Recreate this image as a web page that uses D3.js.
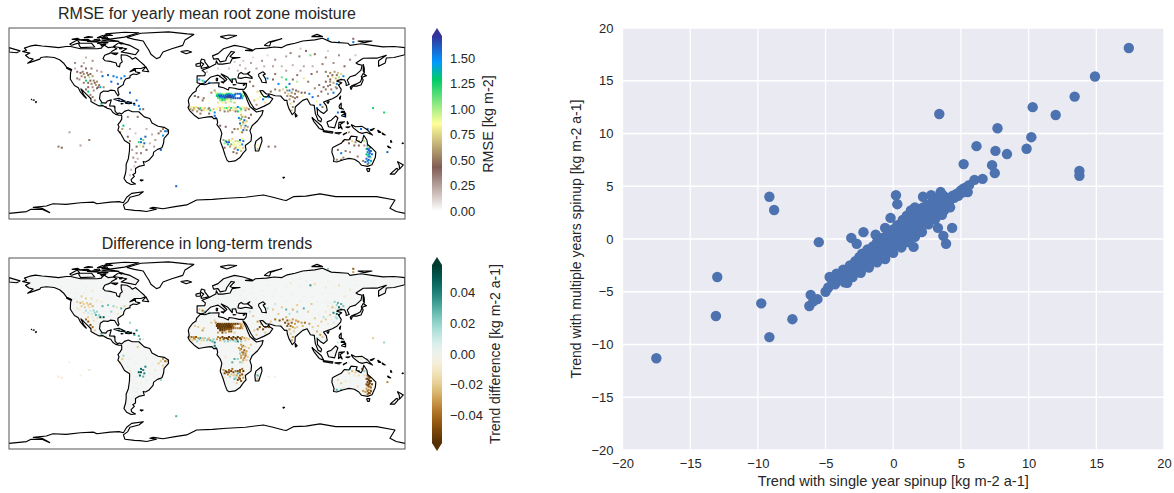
<!DOCTYPE html>
<html>

<head>
    <meta charset="UTF-8" />
    <title>spinup comparison</title>
    <style>
        body {
            margin: 0;
            padding: 0;
            background: #fff;
            overflow: hidden;
        }

        text {
            font-family: 'Liberation Sans', Arial, sans-serif;
            fill: #262626;
        }

        .soft {
            filter: blur(0.3px);
        }

        .cell-layer {
            filter: blur(0.45px);
        }
    </style>
</head>

<body>
    <svg id="chart" width="1174" height="493"></svg>

    <script src="https://cdnjs.cloudflare.com/ajax/libs/d3/7.8.5/d3.min.js"></script>
    <script>
        // coastlines, lon/lat
        const americas = [[-168, 65.5], [-164, 66.5], [-166, 68.5], [-161, 70.3], [-156, 71.3], [-150, 70.5], [-141, 69.7], [-135, 69], [-128, 70], [-124, 70], [-115, 68], [-108, 68], [-100, 68], [-96, 68.5], [-94, 71.5], [-90, 69], [-85, 69.5], [-82, 68], [-86, 66], [-88, 64], [-93, 62], [-94.5, 59], [-92.5, 57], [-88, 56.5], [-82.5, 55], [-82, 52.5], [-79.5, 51.5], [-79, 54.5], [-77, 56], [-78, 59], [-78, 62.5], [-73, 62], [-70, 60.5], [-68, 58.5], [-65, 60], [-61, 56.5], [-57, 53], [-56, 51.5], [-60, 50], [-66, 50], [-70, 47], [-65, 49], [-65, 47], [-61, 46], [-64, 44.5], [-67, 45], [-70, 43.5], [-70, 41.7], [-74, 40.5], [-75.5, 38], [-76, 35.5], [-78, 34], [-81, 32], [-81, 30], [-80, 26.5], [-81, 25.2], [-82.5, 27.5], [-84, 30], [-88, 30.3], [-90, 29.2], [-94, 29.5], [-97, 27.5], [-97.7, 22.5], [-95.5, 19], [-92, 18.5], [-90.5, 20.5], [-87, 21.5], [-88, 18], [-88.5, 16], [-84, 15.8], [-83.5, 11], [-81.5, 9], [-79.5, 9.5], [-77.5, 8.7], [-75, 11], [-71.5, 12.2], [-68, 10.7], [-62, 10.7], [-57, 6], [-52, 4.5], [-50, 0.5], [-44.5, -2.5], [-39, -3.5], [-35, -6], [-35, -9], [-39, -13.5], [-39.5, -18], [-41, -22], [-45, -23.5], [-48.5, -26], [-49, -29], [-53, -33.5], [-56, -35], [-58, -34.5], [-57, -38], [-62, -39], [-65, -41], [-65, -45], [-67.5, -46.5], [-66, -48], [-69, -51], [-68.5, -53], [-65, -55], [-69, -55.5], [-73, -53.5], [-75.5, -50], [-74, -45], [-73.5, -41], [-73.5, -37], [-71.5, -32], [-70.5, -25], [-70.3, -18.5], [-75, -15.5], [-78, -10], [-81, -6], [-80, -3], [-81, -1], [-79, 1.5], [-77.5, 4], [-77.5, 7], [-78, 7.5], [-80, 7.5], [-83, 8.3], [-85.5, 10], [-87.5, 13], [-91, 14], [-94.5, 16.2], [-98, 16], [-102, 18], [-105.5, 20], [-105.5, 22.5], [-109, 26], [-112.5, 29.5], [-114.7, 31.5], [-112, 26], [-109.7, 23], [-112, 25], [-115, 28.5], [-117, 32.5], [-120.5, 34.5], [-122.5, 37.5], [-124.3, 40.5], [-124, 46.5], [-123, 49], [-127.5, 51], [-130, 54.5], [-134, 58], [-139, 60], [-146, 60.7], [-151, 60], [-152, 58.5], [-158, 56.5], [-163, 54.8], [-158, 58.5], [-162, 59.5], [-165, 62], [-161, 64], [-168, 65.5]];
        const afroEurasia = [[-6, 35.8], [-9.5, 32], [-10, 29.5], [-13, 27.5], [-16, 23.5], [-17, 21], [-16.2, 16.5], [-17.3, 14.7], [-16, 12], [-13.5, 9.5], [-11, 7], [-7.5, 4.5], [-4, 5.2], [1, 6], [4.5, 6.3], [6, 4.5], [9, 4.5], [9.7, 1], [9, -1], [12, -5], [13.5, -9], [12, -16], [14.5, -22.5], [16.5, -29], [18.3, -33.5], [20, -34.8], [25.5, -34], [30, -31], [32.8, -27], [35.5, -24], [34.8, -20], [40, -16], [40.5, -11], [39, -6.5], [41, -2], [46, 2.5], [50, 8], [51, 11.8], [45, 10.5], [43, 12], [39, 15.5], [37, 20], [35.5, 24], [33.5, 28], [32.6, 29.8], [34.5, 28], [36, 26], [38.5, 21], [40, 18], [43, 13.5], [45, 12.8], [52, 15.8], [57, 18.5], [59.8, 22.5], [56.5, 24.5], [56.3, 26.3], [54.5, 24.2], [51.5, 24.5], [50, 26.7], [48, 29.8], [50.5, 30], [54, 26.8], [57, 26.8], [62, 25.2], [67, 25], [68.5, 23.3], [70.5, 21], [72.7, 21], [73, 18], [74.5, 13.5], [77.5, 8], [80, 10.5], [80.2, 15], [83, 17.5], [87, 21], [91, 22.5], [94, 17], [97.5, 16.5], [98.5, 9], [101, 3], [103.5, 1.5], [104.2, 4], [100.5, 8], [100.2, 13.5], [103, 11], [106, 9], [109.3, 12], [108.5, 16], [106, 19.5], [110, 21], [114, 22.5], [118, 24.7], [121.5, 28.5], [122, 31], [119.5, 35], [122.5, 37], [118, 38.5], [121.5, 40], [125, 39.7], [126.5, 36.5], [126.5, 34.5], [129.3, 35.5], [127.5, 39.5], [130, 42.5], [135, 44], [140, 48.5], [141, 53], [137, 54], [135.5, 55], [142, 59.3], [150, 59.5], [155, 59.5], [163, 62], [156, 57], [156, 52], [162, 55], [163, 59.5], [170, 60], [179.9, 62.5], [180, 69], [170, 70], [160, 69.7], [150, 71], [140, 72.5], [130, 71], [128, 73], [113, 74], [105, 77.5], [98, 76], [87, 75], [80, 73], [73, 71.5], [68, 69], [61, 69.5], [54, 68.5], [44, 68], [41, 66], [35, 66.5], [41, 67], [33, 69.5], [25, 71], [15, 68], [10, 63.5], [5, 61.5], [6, 58.5], [10, 59], [12, 56], [17, 57], [18, 60], [22, 65.5], [25, 65], [21, 61], [23, 60], [30, 60], [23, 59], [21, 55], [14, 54], [10, 54], [8.5, 57], [8, 54], [4, 52], [1.5, 50.8], [-1.5, 49.5], [-4.5, 48.4], [-1.5, 46], [-2, 43.5], [-9, 43.3], [-9, 37], [-5.5, 36], [-2, 36.8], [0, 39], [3, 42], [6, 43], [10, 44], [15.5, 40], [16, 38], [18, 40], [13, 45], [19, 42], [23, 37], [23, 40.5], [26, 40.7], [27, 37], [30, 36.5], [36, 36.5], [35.5, 33], [34, 31.3], [32, 31], [29, 31], [25, 32], [20, 32.7], [19.5, 30.5], [15, 32.5], [10.5, 33.5], [11, 37], [3, 36.8], [-2, 35.2], [-6, 35.8]];
        const australia = [[114, -22], [113.5, -26], [115.5, -32], [115, -34.5], [118, -35], [124, -33], [129, -31.7], [134, -32.5], [138, -35], [140.5, -38], [146, -39], [150, -37.5], [153, -31], [153.5, -26], [149.5, -22], [146, -19], [145.3, -15], [142.5, -10.7], [141.5, -15], [140, -17.5], [135.5, -15], [136.5, -12], [131, -11.5], [129, -15], [125, -14.5], [122, -18], [117, -20.5], [114, -22]];
        const islands = [
            [[-117, 73], [-105, 73], [-102, 69.5], [-115, 69], [-117, 73]],
            [[-80, 73.5], [-70, 71], [-62, 66.5], [-65, 62.5], [-72, 64], [-78, 65], [-73, 68], [-85, 70], [-80, 73.5]],
            [[-125, 72], [-118, 76], [-116, 73.5], [-123, 71.2], [-125, 72]],
            [[-90, 76.5], [-75, 78.5], [-62, 82.5], [-75, 83], [-92, 81.5], [-90, 76.5]],
            [[-96, 75], [-80, 74.7], [-90, 76.3], [-96, 75]],
            [[-117, 76], [-106, 75], [-108, 76.5], [-117, 76]],
            [[-100, 78], [-92, 78.5], [-95, 80], [-100, 78]],
            [[-100, 73], [-95, 72], [-90, 73.5], [-96, 74], [-100, 73]],
            [[-123, 76.5], [-116, 76.5], [-118, 77.5], [-123, 76.5]],
            [[-112, 78], [-104, 78.5], [-108, 79], [-112, 78]],
            [[-103, 76], [-97, 75.2], [-98, 76.8], [-103, 76]],
            [[-96, 77], [-89, 77], [-92, 78], [-96, 77]],
            [[-94, 80], [-86, 80], [-90, 81.3], [-94, 80]],
            [[-80, 73.5], [-76, 73], [-78, 72.2], [-80, 73.5]],
            [[-109, 74.5], [-98, 74], [-103, 75.2], [-109, 74.5]],
            [[-97, 72], [-92, 72], [-95, 70], [-97, 72]],
            [[-80, 68], [-77, 69], [-78, 67.8], [-80, 68]],
            [[-87, 64], [-81, 64], [-83, 62.5], [-87, 64]],
            [[-59, 47.7], [-53, 47], [-55.5, 51.5], [-59, 47.7]],
            [[-128, 50.5], [-124, 48.5], [-125, 50], [-128, 50.5]],
            [[-85, 22], [-80, 23], [-74.5, 20.2], [-78, 20], [-85, 22]],
            [[-74.5, 18.5], [-72, 20], [-68.5, 18.5], [-71, 18], [-74.5, 18.5]],
            [[-78.3, 18.3], [-76.3, 18], [-78, 17.8], [-78.3, 18.3]],
            [[-67, 18.4], [-65.7, 18.3], [-67, 18], [-67, 18.4]],
            [[-160, 22], [-159.4, 22], [-159.5, 21.7], [-160, 22]],
            [[-158, 21.6], [-157, 21.3], [-158, 21.2], [-158, 21.6]],
            [[-156, 20], [-155, 19.7], [-155.6, 19], [-156, 20]],
            [[-61, -51.3], [-58, -51.4], [-59.5, -52.2], [-61, -51.3]],
            [[68.8, -49], [70.5, -49], [69.5, -49.7], [68.8, -49]],
            [[-5.5, 50], [1.5, 51.5], [0, 53.5], [-2, 56], [-2, 57.7], [-5, 58.6], [-6, 56], [-3, 54], [-5, 52], [-5.5, 50]],
            [[-10, 52], [-6, 52.2], [-6, 55], [-10, 54], [-10, 52]],
            [[-24, 65.5], [-18, 66.3], [-14, 65], [-19, 63.4], [-24, 65.5]],
            [[12, 79], [20, 80.5], [27, 80], [18, 76.8], [12, 79]],
            [[52, 71], [56, 74], [68, 77], [58, 74], [57, 70.5], [52, 71]],
            [[95, 79], [105, 79], [100, 81], [95, 79]],
            [[137, 75], [150, 75], [143, 73.5], [137, 75]],
            [[-180, 65], [-173, 64.3], [-170, 66], [-180, 69], [-180, 65]],
            [[142, 54], [143, 50], [143, 46], [142, 48], [142, 54]],
            [[140, 42], [142, 45.5], [145, 43.5], [141, 42], [140, 42]],
            [[131, 34], [136, 34], [140, 35], [142, 39.5], [141, 41.5], [139.5, 38], [136, 36], [131, 34]],
            [[130, 33.5], [132, 33], [131, 31], [130, 33.5]],
            [[120.2, 23], [121.5, 25], [121, 22], [120.2, 23]],
            [[108.7, 19.3], [111, 20], [110, 18.3], [108.7, 19.3]],
            [[120, 16], [122, 18.5], [122, 14], [124, 13], [120.5, 14], [120, 16]],
            [[122, 11], [125, 11], [125, 10], [122, 10], [122, 11]],
            [[122, 7], [126, 9.5], [126, 6], [122, 7]],
            [[109, 1.5], [113, 3], [117, 7], [119, 5], [117.5, 1], [116, -4], [110.5, -3], [109, 1.5]],
            [[95.3, 5.6], [104, -2], [106, -6], [102, -4.5], [97, 2], [95.3, 5.6]],
            [[105.5, -6.5], [114.5, -7.5], [114, -8.7], [106, -7.5], [105.5, -6.5]],
            [[116, -8.5], [122, -8.3], [120, -9.5], [116, -8.5]],
            [[124, -9.5], [127, -8.5], [124, -10.3], [124, -9.5]],
            [[119.5, -5], [120, 1], [125, 1.5], [121, -1], [123, -5], [121, -3], [119.5, -5]],
            [[127.5, 2], [128.5, 0], [127.7, -0.5], [127.5, 2]],
            [[126, -3.2], [130, -3], [128, -3.8], [126, -3.2]],
            [[131, -1], [135, -3], [141, -2.6], [146, -6], [150.5, -10.5], [145, -8], [141, -9], [138, -8], [133, -4], [131, -1]],
            [[148, -6], [152, -4.5], [150, -6.3], [148, -6]],
            [[155, -6], [158, -8], [156, -8], [155, -6]],
            [[159, -8.5], [162, -10.5], [160, -10], [159, -8.5]],
            [[167, -15], [168, -17], [167, -17], [167, -15]],
            [[164, -20.3], [167, -22.3], [165, -21.8], [164, -20.3]],
            [[177.3, -17.5], [178.6, -18], [177.5, -18.3], [177.3, -17.5]],
            [[145, -41], [148, -41], [147.5, -43.5], [146, -43.5], [145, -41]],
            [[173, -34.5], [178.5, -37.7], [175, -41.5], [174.8, -38], [173, -34.5]],
            [[172.5, -40.7], [174, -42], [170.5, -46], [166.5, -46], [172.5, -40.7]],
            [[49.5, -12], [50, -16], [47, -25], [44, -25], [43.5, -20], [44.5, -16], [49.5, -12]],
            [[80, 9.5], [82, 7], [80.5, 6], [80, 9.5]],
            [[8.3, 41], [9.7, 41], [9.5, 39], [8.5, 39], [8.3, 41]],
            [[12.5, 38], [15.5, 38], [15, 36.8], [12.5, 38]],
            [[23.5, 35.5], [26.3, 35.2], [24, 35], [23.5, 35.5]],
            [[32.5, 35], [34.5, 35.6], [33.5, 34.7], [32.5, 35]]
        ];
        const greenland = [[-73, 78.2], [-60, 82], [-35, 83.3], [-18, 81.5], [-12, 81], [-20, 76], [-22, 71], [-32, 68], [-40, 65], [-43, 60], [-46, 59], [-51, 63], [-53, 67], [-55, 70], [-58, 75], [-66, 76.5], [-73, 78.2]];
        const antarctica = [[-180, -81.7], [-164, -80.1], [-160, -78], [-150, -78], [-143, -81], [-150, -77], [-158, -76.2], [-146, -75], [-140, -73], [-128, -73.5], [-115, -72], [-103.4, -71.5], [-100, -73], [-88, -71.5], [-80, -71], [-76, -72], [-73, -67], [-68.5, -63.5], [-58, -62], [-62, -65], [-70, -67], [-72, -71], [-76, -74], [-74.6, -78], [-66, -79], [-61, -79.2], [-55, -80], [-46, -78], [-52, -77], [-48.8, -76.2], [-40, -77.5], [-29, -75.6], [-18.5, -74], [-9.4, -69.5], [5, -69], [17.9, -68], [35, -67], [51.2, -65], [60, -67], [69.4, -69.5], [72, -70], [78.5, -66.5], [90, -66], [102.7, -64], [117, -66.5], [133, -66.5], [154.2, -66.5], [170.9, -69.5], [166.3, -77], [172, -80], [180, -81.7]];
        const lakes = [
            [[28, 41.5], [29, 45], [31, 46.5], [33, 45], [36, 45], [39, 47], [37, 45], [41, 42], [41, 41], [35, 42], [31, 41], [28, 41.5]],
            [[47, 45], [51, 47], [53, 45], [51, 44], [53, 41], [54, 37], [50, 37.5], [49, 40], [47, 43], [47, 45]]
        ];

        // [lon, lat, rmse, trend difference] of the grid cells that stand out
        const cells = [
            // sahara
            [4, 28, 0.55, -0.02], [8, 28, 0.95, -0.035], [10, 27, 1.1, -0.055], [12, 27, 1.15, -0.055], [14, 27, 1.0, -0.05], [16, 27, 0.9, -0.055], [18, 27, 1.25, -0.055], [20, 27, 1.3, -0.055], [22, 27, 1.2, -0.05], [24, 27, 0.9, -0.05], [26, 27, 1.55, -0.055], [28, 27, 1.6, -0.05], [30, 27, 1.55, -0.03], [32, 27, 1.0, -0.02],
            [9, 26, 1.2, -0.055], [11, 26, 1.4, -0.055], [13, 26, 1.5, -0.055], [15, 26, 1.3, -0.055], [17, 26, 1.5, -0.055], [19, 26, 1.6, -0.055], [21, 26, 1.55, -0.055], [23, 26, 1.4, -0.05], [25, 26, 1.6, -0.045], [31, 26, 1.5, -0.03],
            [9, 25, 1.3, -0.055], [11, 25, 1.6, -0.055], [13, 25, 1.65, -0.055], [15, 25, 1.55, -0.055], [17, 25, 1.6, -0.055], [19, 25, 1.65, -0.055], [21, 25, 1.7, -0.055], [23, 25, 1.6, -0.05], [25, 25, 1.5, -0.02], [31, 25, 1.55, -0.03], [33, 25, 1.2, -0.02],
            [10, 24, 1.3, -0.055], [12, 24, 1.6, -0.055], [14, 24, 1.6, -0.055], [16, 24, 1.6, -0.055], [18, 24, 1.65, -0.055], [20, 24, 1.7, -0.055], [22, 24, 1.65, -0.055], [24, 24, 1.6, -0.04], [31, 24, 1.6, -0.035],
            [10, 23, 1.1, -0.055], [12, 23, 1.45, -0.055], [14, 23, 1.5, -0.055], [16, 23, 1.65, -0.055], [18, 23, 1.7, -0.055], [20, 23, 1.65, -0.055], [22, 23, 1.7, -0.055], [24, 23, 1.65, -0.045], [26, 23, 1.65, -0.035], [28, 23, 1.6, -0.035], [30, 23, 1.65, -0.04], [32, 23, 1.4, -0.03],
            [12, 22, 1.1, -0.055], [14, 22, 1.2, -0.055], [16, 22, 1.3, -0.055], [18, 22, 1.0, -0.05], [20, 22, 0.9, -0.045], [22, 22, 1.1, -0.045],
            [12, 21, 1.0, -0.055], [14, 21, 1.25, -0.055], [16, 21, 1.1, -0.05], [20, 20, 0.9, -0.04], [22, 20, 1.0, -0.045], [25, 19, 0.7, -0.02], [10, 19, 0.8, -0.03], [14, 19, 0.9, -0.05], [17, 19, 0.7, -0.03],
            [-11, 25, 0.45, -0.02], [-8, 24, 0.45, -0.02], [-4, 21, 0.5, -0.03], [-3, 23, 0.5, -0.02], [7, 30, 0.6, -0.02],
            // sahel
            [-16, 15, 0.7, -0.03], [-14, 15, 0.9, -0.04], [-12, 15, 0.85, -0.03], [-10, 15, 0.8, -0.045], [-8, 14, 0.6, -0.03], [-6, 14, 1.2, 0.035], [-4, 14, 0.85, -0.02], [-2, 14, 0.7, 0.02], [1, 13, 0.6, -0.03], [3, 12, 1.3, 0.03], [5, 11, 0.85, 0.03], [7, 10, 1.5, 0.04], [-13, 12, 0.5, -0.02], [-9, 11, 0.55, 0.02],
            [-15, 13, 0.6, -0.02], [-11, 13, 0.8, -0.03], [-7, 13, 0.55, 0.025], [-3, 12, 0.75, -0.02], [0, 12, 0.9, 0.02], [-5, 12, 0.5, -0.015], [-12, 14, 0.65, -0.035], [2, 14, 0.5, -0.02], [6, 13, 0.7, 0.02], [9, 13, 0.85, -0.03],
            [10, 15, 0.85, -0.035], [12, 14, 0.7, -0.045], [14, 15, 0.85, -0.05], [16, 14, 1.1, -0.055], [18, 14, 1.2, -0.055], [20, 15, 0.8, -0.055], [22, 14, 1.3, -0.05], [24, 15, 0.9, -0.055], [26, 14, 1.05, -0.055], [28, 15, 1.5, -0.055], [30, 14, 1.1, -0.05], [32, 15, 0.85, -0.03], [34, 14, 0.75, -0.03], [36, 14, 0.7, -0.02], [38, 13, 0.5, -0.02], [19, 11, 0.6, 0.02], [24, 12, 0.75, 0.025], [28, 11, 1.3, 0.04], [31, 11, 0.9, 0.02], [16, 11, 0.5, 0.02],
            [12, 12, 0.6, -0.03], [15, 13, 0.9, -0.045], [19, 13, 0.8, -0.05], [23, 13, 0.85, -0.05], [27, 13, 0.8, -0.05], [31, 13, 1.2, -0.045], [35, 12, 0.55, -0.02], [21, 12, 0.55, 0.02], [26, 11, 0.5, 0.02],
            // east and central africa
            [-6, 9, 0.5, -0.01], [2, 9, 0.45, 0], [7, 7, 1.6, 0.045], [8, 5, 1.6, 0.04], [31, 8, 0.7, -0.03], [33, 7, 0.85, -0.035], [35, 6, 0.55, -0.02], [29, 5, 1.5, -0.03], [31, 4, 1.3, -0.04], [34, 3, 1.6, -0.045], [36, 2, 0.7, -0.03], [32, 1, 0.85, -0.035], [30, 0, 1.55, 0.02], [33, -1, 0.8, -0.03], [35, -2, 1.55, -0.04], [37, -3, 0.6, -0.02], [31, -4, 0.8, -0.03], [28, -5, 0.6, 0.02], [33, -6, 1.55, -0.03], [30, -8, 0.85, 0.02], [25, -5, 0.5, 0.03], [23, -8, 0.5, 0.03], [12, -2, 0.45, 0], [17, -3, 0.4, -0.01],
            [32, 6, 0.6, -0.03], [30, 3, 0.75, -0.025], [33, 1, 0.55, -0.04], [35, 0, 0.85, -0.035], [31, -2, 0.65, -0.03], [34, -4, 0.7, -0.035], [36, -6, 0.5, -0.02], [32, -8, 0.5, -0.02], [38, 5, 0.45, -0.02], [40, 8, 0.4, -0.02],
            // southern africa
            [15, -15, 0.6, -0.03], [17, -16, 1.3, -0.05], [18, -17, 1.65, -0.055], [20, -17, 1.6, -0.05], [16, -18, 1.05, -0.05], [19, -19, 1.35, -0.035], [22, -16, 0.85, -0.055], [24, -17, 0.9, -0.05], [26, -16, 0.75, -0.04], [28, -16, 1.0, -0.05], [30, -15, 1.6, -0.05], [32, -14, 0.9, -0.04], [33, -16, 1.55, -0.055], [21, -21, 0.6, 0.02], [24, -20, 0.85, -0.02], [27, -20, 0.85, -0.03], [30, -20, 0.8, -0.04], [32, -19, 1.5, -0.05], [25, -23, 0.6, 0.03], [28, -24, 1.55, -0.05], [30, -23, 0.85, -0.05], [31, -25, 0.7, -0.045], [27, -27, 0.5, -0.02], [16, -22, 0.45, -0.01], [46, -20, 0.85, 0.03], [46, -23, 0.7, -0.02], [56, -21, 0.4, 0], [62, -21, 0.35, 0],
            [20, -15, 0.7, -0.04], [23, -14, 0.75, -0.04], [25, -19, 0.9, -0.02], [28, -18, 0.85, 0.03], [30, -17, 0.8, -0.045], [22, -19, 0.6, -0.02], [26, -22, 0.6, 0.02], [29, -22, 0.85, -0.04], [33, -22, 0.7, -0.03], [24, -26, 0.4, 0],
            // north america
            [-120, 55, 0.3, 0], [-110, 60, 0.2, 0], [-104, 57, 0.3, -0.01], [-114, 52, 0.4, -0.02], [-110, 50, 0.45, -0.02], [-105, 50, 0.35, -0.015], [-118, 47, 0.4, -0.02], [-115, 46, 0.45, -0.025], [-112, 45, 0.55, -0.02], [-109, 46, 0.5, -0.02], [-106, 45, 0.4, -0.025], [-114, 43, 0.55, -0.02], [-111, 42, 0.5, -0.02], [-107, 42, 1.0, -0.015], [-104, 43, 0.6, -0.025], [-118, 41, 0.35, -0.01], [-110, 39, 1.25, 0.015], [-106, 39, 0.45, 0.01], [-103, 39, 0.5, 0.02], [-100, 38, 0.55, 0.02], [-105, 36, 0.55, 0.01], [-101, 35, 0.6, 0.03], [-98, 35, 0.5, 0.02], [-97, 33, 1.4, 0.055], [-94, 33, 0.55, 0.05], [-100, 32, 0.45, -0.01], [-108, 33, 0.45, -0.02], [-110, 31, 0.4, -0.04], [-108, 29, 1.3, -0.045], [-106, 26, 0.55, -0.05], [-104, 24, 0.5, -0.04], [-102, 21, 0.35, -0.02], [-96, 18, 1.3, 0.03], [-92, 15, 0.4, -0.02],
            [-113, 47, 0.35, -0.015], [-108, 44, 0.45, -0.02], [-116, 40, 0.3, -0.01], [-112, 37, 0.35, -0.01], [-108, 37, 0.4, 0.01], [-102, 37, 0.45, 0.02], [-99, 33, 0.4, 0.01], [-104, 33, 0.3, -0.01], [-120, 50, 0.2, 0], [-112, 55, 0.2, 0], [-100, 48, 0.25, -0.01], [-96, 47, 0.25, -0.01], [-103, 30, 0.3, -0.015],
            [-95, 43, 1.6, 0.03], [-90, 44, 1.6, 0.025], [-85, 43, 1.55, 0.02], [-82, 42, 1.5, -0.015], [-78, 41, 1.6, 0.03], [-75, 43, 1.5, -0.02], [-87, 38, 1.6, 0.02], [-81, 36, 1.6, -0.01], [-70, 28, 1.6, 0.02], [-64, 21, 1.6, 0.04],
            [-80, 21, 1.6, 0.035], [-77, 21, 1.6, 0.04], [-75, 20, 1.6, 0.04], [-72, 19, 1.55, 0.045], [-69, 19, 1.6, 0.04], [-66, 17, 1.6, 0.035], [-62, 16, 1.55, 0.03], [-84, 15, 1.2, 0.03], [-58, 13, 0.4, -0.01], [-61, 13, 1.5, 0.03],
            // south america
            [-72, 6, 0.3, 0], [-63, 6, 0.5, -0.02], [-76, -2, 1.3, 0.02], [-77, -5, 0.6, -0.02], [-79, -8, 0.45, -0.02], [-72, -12, 0.4, 0], [-70, -16, 0.35, -0.01], [-40, -5, 0.55, -0.03], [-38, -7, 1.55, -0.04], [-36, -7, 1.6, -0.03], [-42, -7, 0.5, -0.02], [-44, -9, 0.4, -0.02], [-40, -11, 1.45, -0.02], [-42, -24, 1.6, 0.02],
            [-56, -12, 1.6, 0.04], [-60, -14, 1.55, 0.045], [-58, -15, 1.1, 0.04], [-62, -17, 1.2, 0.05], [-60, -17, 1.55, 0.05], [-57, -18, 1.6, 0.04], [-61, -20, 0.9, 0.045], [-58, -21, 0.6, 0.03], [-64, -21, 0.45, 0], [-55, -24, 0.4, 0], [-60, -27, 0.35, 0], [-64, -27, 0.3, 0], [-67, -31, 0.3, 0], [-65, -35, 0.3, 0], [-69, -42, 0.2, 0], [-107, -15, 0.5, -0.01], [-135, -21, 0.5, -0.01], [-132, -22, 0.45, -0.01], [-125, -8, 0.25, 0], [-115, -20, 0.25, 0], [-28, -57, 1.6, 0.03],
            [-70, -5, 0.2, 0], [-65, -9, 0.15, 0], [-55, -5, 0.2, 0], [-50, -10, 0.2, 0], [-47, -15, 0.25, -0.01], [-52, -18, 0.2, 0], [-48, -21, 0.25, 0], [-68, -24, 0.25, 0], [-63, -32, 0.2, 0], [-66, -39, 0.15, 0], [-70, -47, 0.15, 0],
            // europe, turkey and middle east
            [-7, 40, 1.5, -0.02], [-4, 39, 1.2, -0.04], [-2, 38, 1.55, 0.03], [2, 37, 1.5, 0.03], [12, 43, 0.5, -0.01], [22, 40, 1.3, 0.015], [39, 38, 0.45, 0.015], [42, 34, 0.5, -0.02], [46, 29, 0.75, -0.03], [49, 27, 0.85, -0.02], [43, 21, 0.7, -0.02], [46, 22, 0.85, -0.04], [48, 24, 0.9, -0.05], [51, 22, 1.55, -0.05], [53, 24, 1.3, -0.05], [56, 24, 1.5, -0.045], [53, 19, 0.8, -0.02], [45, 17, 0.6, -0.02],
            [0, 47, 0.15, 0], [10, 50, 0.12, 0], [20, 50, 0.15, 0], [28, 48, 0.2, 0], [35, 50, 0.2, 0], [25, 56, 0.12, 0], [33, 57, 0.15, 0], [45, 50, 0.25, 0], [52, 52, 0.2, 0], [42, 60, 0.1, 0], [55, 62, 0.1, 0],
            // central asia and russia
            [30, 53, 0.2, 0], [40, 55, 0.25, 0], [50, 57, 0.3, 0], [62, 58, 0.3, 0], [72, 61, 0.25, 0], [76, 64, 0.35, -0.01], [84, 61, 0.35, 0], [90, 66, 0.4, 0], [94, 62, 1.1, 0.035], [98, 63, 0.4, -0.015], [108, 60, 0.35, -0.01], [120, 62, 0.3, -0.015], [130, 58, 0.3, -0.01], [125, 52, 0.45, -0.01], [115, 55, 0.3, 0], [105, 54, 0.35, 0], [62, 45, 0.5, 0.01], [60, 40, 0.45, -0.02], [55, 41, 1.5, 0.02], [68, 42, 1.1, -0.02], [72, 40, 1.25, 0.03], [78, 40, 0.45, -0.025], [82, 38, 1.0, 0.02], [88, 41, 0.8, 0.03], [92, 38, 0.5, -0.02], [65, 36, 1.5, -0.02], [75, 36, 1.55, 0.015], [82, 44, 0.5, -0.02], [95, 45, 0.4, -0.02], [102, 35, 0.5, 0], [98, 32, 0.55, -0.02],
            [68, 52, 0.2, 0], [78, 53, 0.2, 0], [88, 52, 0.25, 0], [96, 52, 0.2, 0], [60, 52, 0.25, 0], [72, 48, 0.25, 0], [85, 48, 0.25, 0], [100, 47, 0.3, 0], [135, 62, 0.15, 0], [110, 66, 0.12, 0], [85, 68, 0.15, 0],
            // east asia
            [108, 47, 0.5, 0], [112, 46, 0.55, 0], [116, 47, 0.6, 0.02], [119, 46, 0.7, 0.03], [122, 45, 0.75, 0.03], [124, 43, 1.5, 0.025], [110, 43, 0.5, -0.01], [114, 42, 0.8, -0.025], [117, 41, 0.65, -0.01], [120, 42, 1.0, 0.045], [122, 40, 0.6, 0.04], [108, 38, 0.45, -0.01], [112, 38, 0.55, 0], [115, 37, 0.6, 0.04], [118, 36, 1.55, 0.05], [120, 35, 1.1, 0.045], [112, 35, 0.5, -0.02], [106, 33, 0.45, 0.015], [108, 31, 0.5, -0.02], [113, 31, 0.35, 0], [118, 32, 0.4, 0.02], [104, 29, 0.4, -0.02], [110, 27, 0.3, -0.01], [101, 25, 0.35, -0.02], [115, 28, 1.55, 0.01], [151, 14, 1.25, -0.02], [161, 10, 1.25, 0.02], [133, 74, 1.55, -0.03], [110, 77, 1.5, 0.02], [133, 77, 0.4, -0.045], [120, 74, 1.5, 0],
            [114, 44, 0.4, 0], [118, 44, 0.5, 0.02], [112, 40, 0.45, 0], [119, 39, 0.55, 0.03], [117, 33, 0.3, 0.015], [110, 34, 0.35, 0],
            // south and south-east asia
            [58, 29, 0.4, -0.02], [62, 31, 0.5, -0.04], [66, 30, 0.55, -0.05], [69, 31, 0.75, -0.04], [72, 33, 1.3, -0.025], [75, 30, 1.5, -0.02], [71, 28, 0.6, -0.05], [74, 27, 0.75, -0.05], [77, 28, 0.55, -0.045], [80, 27, 0.5, -0.03], [83, 29, 0.55, -0.035], [86, 28, 0.45, -0.03], [89, 28, 0.45, -0.04], [78, 24, 0.55, -0.03], [82, 24, 0.45, -0.02], [87, 25, 0.85, -0.025], [75, 22, 0.6, -0.03], [79, 20, 0.45, -0.02], [76, 18, 0.75, -0.02], [78, 15, 0.55, -0.03], [77, 12, 0.7, -0.03], [93, 27, 1.5, -0.03], [96, 24, 1.55, -0.02], [100, 20, 0.85, -0.025], [103, 17, 1.6, -0.03], [105, 15, 0.5, -0.02], [100, 14, 1.55, 0.02], [119, 10, 1.55, 0.01], [125, 7, 1.6, 0.01],
            [73, 30, 0.55, -0.045], [78, 31, 0.5, -0.03], [81, 30, 0.45, -0.03], [76, 25, 0.5, -0.04], [80, 23, 0.35, -0.02], [73, 25, 0.55, -0.045],
            // australia and pacific
            [124, -16, 0.5, 0], [127, -15, 0.7, 0.015], [130, -14, 0.45, 0.03], [132, -16, 0.75, -0.025], [135, -17, 0.55, -0.02], [138, -16, 0.7, 0.04], [141, -14, 0.85, -0.04], [143, -16, 1.0, 0.02], [129, -18, 0.45, -0.02], [134, -20, 0.4, -0.01], [138, -20, 0.45, -0.015], [143, -20, 0.6, -0.015], [122, -27, 1.55, -0.02], [119, -24, 0.4, -0.015], [126, -25, 0.35, -0.01], [130, -26, 0.3, 0], [124, -31, 0.35, -0.01], [137, -30, 0.35, -0.015], [118, -33, 0.55, 0.03], [122, -33, 0.45, 0.03], [142, -34, 0.5, -0.03], [146, -37, 0.5, -0.04],
            [146, -20, 1.6, -0.045], [148, -22, 1.65, -0.05], [145, -23, 1.3, -0.045], [147, -24, 1.65, -0.055], [149, -25, 1.6, -0.055], [146, -26, 1.5, -0.055], [148, -27, 1.65, -0.055], [150, -28, 1.55, -0.05], [145, -28, 1.3, -0.05], [147, -30, 1.6, -0.045], [149, -31, 1.0, -0.04], [145, -32, 1.6, -0.03], [147, -33, 1.65, -0.035], [149, -34, 1.4, -0.05], [144, -35, 1.55, -0.03], [147, -36, 1.6, -0.05], [164, -26, 1.6, -0.035], [129, -8, 0.6, 0], [140, -5, 1.55, -0.01], [146, -5, 1.55, 0.01],
            [147, -21, 1.0, -0.05], [146, -23, 1.6, -0.05], [148, -25, 1.55, -0.055], [147, -28, 1.5, -0.055], [146, -29, 1.2, -0.05], [148, -30, 1.5, -0.04], [146, -34, 1.55, -0.04], [148, -36, 1.0, -0.05]
        ];

        const rmseTicks = [0, 0.25, 0.5, 0.75, 1, 1.25, 1.5];
        const rmseDomain = [0, 1.72];
        // matplotlib terrain_r
        const terrainStops = [0, 0.25, 0.5, 0.75, 0.85, 1];
        const terrainColors = ['#ffffff', '#805c54', '#ffff99', '#00cc66', '#0099ff', '#333399'];
        const trendTicks = [-0.04, -0.02, 0, 0.02, 0.04];
        const trendDomain = [-0.058, 0.058];

        const trendSingleYear = [17.4, 14.9, 13.4, 12.0, 10.3, 10.2, 9.85, 3.4, 7.7, 6.15, 7.55, 8.4, 7.3, 5.2, 7.5, 13.75, 13.75, -9.15, -8.8, -5.5, -13, -13.1, -9.75, -9.15, -7.45, -17.5, 6.6, 6, 5.5, 0.2, 0.3, 2.2, 2.8, 3.5, 4.35, 3.3, 3.7, 3.9, 1.5, -3.1, -2.2, -2.7, -0.2, -0.6, -1.3, -4.7, -3.4, -6.1, -5.6, -6.2, -5.9, -5, -0.6, 2.1,
            -4.8, -4.5, -4.3, -4.1, -4, -3.8, -3.6, -3.5, -3.3, -3.2, -3, -2.9, -2.7, -2.6, -2.5, -2.4, -2.2, -2.1, -2, -1.9, -1.8, -1.7, -1.6, -1.5, -1.4, -1.3, -1.2, -1.1, -1, -1, -0.9, -0.8, -0.8, -0.7, -0.6, -0.6, -0.5, -0.4, -0.4, -0.3, -0.2, -0.2, -0.1, 0, 0, 0.1, 0.2, 0.2, 0.3, 0.4, 0.4, 0.5, 0.6, 0.6, 0.7, 0.8, 0.8, 0.9, 1, 1, 1.1, 1.2, 1.2, 1.3, 1.4, 1.4, 1.5, 1.6, 1.6, 1.7, 1.8, 1.8, 1.9, 2, 2, 2.1, 2.2, 2.3, 2.4, 2.5, 2.6, 2.7, 2.8, 2.9, 3, 3.1, 3.2, 3.3, 3.4, 3.5, 3.6, 3.7, 3.8, 3.9, 4, 4.1, 4.2, 4.4, 4.5, 4.7, 4.8, 5, 5.2, 5.4, 5.1, 5.6,
            -4.2, -3.7, -3.2, -2.8, -2.5, -2.3, -1.9, -1.5, -1.2, -0.8, -0.4, 0, 0.3, 0.7, 1.0, 1.3, 1.6, -3.6, -3, -2.4, -1.8, -1.2, -0.6, 0, 0.6, 1.1, 1.6, 2.1, 2.6, 3.1, 3.6, 4.2];
        const trendMultiYear = [18.1, 15.4, 13.5, 11.75, 12.5, 9.65, 8.55, 11.85, 10.5, 8.8, 8.35, 8.05, 7.0, 7.1, 6.25, 6.45, 6.0, 4.0, 2.75, -0.3, -3.6, -7.3, -6.1, -9.3, -7.6, -11.3, 5.7, 5.6, 4.45, 4.15, 3.3, 4.0, 4.15, 4.45, 1.05, 1.05, 0.3, -0.45, -0.75, 0.1, 0.65, -0.45, 2.0, 1.05, 0.4, -3.6, -4.15, -5.3, -5.7, -6.35, -5.9, -5, -1.9, 0.65,
            -4.6, -4.2, -4.3, -3.9, -3.6, -3.9, -3.3, -3.6, -3.0, -3.4, -2.8, -3.1, -2.5, -2.9, -2.2, -2.6, -2.4, -2.0, -2.3, -1.6, -2.1, -1.8, -1.3, -1.9, -1.5, -1.1, -1.7, -1.4, -0.9, -1.6, -1.2, -0.6, -1.5, -1, -0.4, -1.3, -0.8, -0.2, -1.1, -0.6, 0, -0.9, -0.4, 0.2, -0.7, -0.2, 0.4, -0.6, 0, 0.6, -0.3, 0.2, 0.9, -0.1, 0.4, 1.1, 0.1, 0.6, 1.4, 0.3, 0.8, 1.8, 0.5, 1, 2.2, 0.9, 1.4, 2.4, 1, 1.7, 2.6, 1.3, 2, 2.8, 1.5, 2.3, 3, 1.9, 2.6, 3.2, 2.2, 2.9, 3.4, 2.6, 3.2, 3.7, 2.7, 3.4, 4, 3, 3.6, 4.1, 2.8, 3.4, 3.9, 3.2, 3.7, 4.1, 3.9, 4.3, 4.1, 4.6, 4.8, 4.9, 4.4, 5.1,
            -3.3, -2.9, -2.5, -2.1, -1.7, -1.4, -1.0, -0.7, -0.3, 0.1, 0.5, 0.9, 1.3, 1.8, 2.2, 2.7, 3.0, -4.1, -3.6, -3.2, -2.7, -2.2, -1.7, -1.3, -0.8, -0.3, 0.2, 0.7, 1.4, 1.9, 2.3, 3];
        const scatterTicks = [-20, -15, -10, -5, 0, 5, 10, 15, 20];

        const svg = d3.select('#chart');

        const rmseColor = d3.scaleLinear()
            .domain(terrainStops.map(t => rmseDomain[0] + t * (rmseDomain[1] - rmseDomain[0])))
            .range(terrainColors)
            .clamp(true);
        const trendColor = d3.scaleSequential(d3.interpolateBrBG).domain(trendDomain).clamp(true);

        // equirectangular map, 1.1 px per degree
        const projectionFor = (top) => d3.geoEquirectangular()
            .scale(1.1 * 180 / Math.PI)
            .translate([207, top + 95.5]);

        const drawMap = (top, title, landFill, valueIndex, color, clipId) => {
            const projection = projectionFor(top);
            const shape = d3.line().x(d => projection(d)[0]).y(d => projection(d)[1]);
            const box = { x: 9, y: top, w: 396, h: 191 };

            svg.append('clipPath').attr('id', clipId).append('rect')
                .attr('x', box.x).attr('y', box.y).attr('width', box.w).attr('height', box.h);

            const g = svg.append('g').attr('clip-path', `url(#${clipId})`);

            g.selectAll('path.land')
                .data([americas, afroEurasia, australia, ...islands])
                .join('path')
                .attr('class', 'land')
                .attr('d', shape)
                .attr('fill', landFill);

            g.append('g').attr('class', 'cell-layer').selectAll('rect')
                .data(cells)
                .join('rect')
                .attr('x', d => projection(d)[0] - 1)
                .attr('y', d => projection(d)[1] - 1)
                .attr('width', 2)
                .attr('height', 2)
                .attr('fill', d => color(d[valueIndex]));

            g.selectAll('path.lake')
                .data(lakes)
                .join('path')
                .attr('class', 'lake')
                .attr('d', shape)
                .attr('fill', '#fff');

            g.append('g').attr('class', 'soft').selectAll('path')
                .data([americas, afroEurasia, australia, greenland, antarctica, ...islands, ...lakes])
                .join('path')
                .attr('d', shape)
                .attr('fill', 'none')
                .attr('stroke', '#000')
                .attr('stroke-width', 1.15)
                .attr('stroke-linejoin', 'round');

            svg.append('rect')
                .attr('x', box.x).attr('y', box.y).attr('width', box.w).attr('height', box.h)
                .attr('fill', 'none')
                .attr('stroke', '#555')
                .attr('stroke-width', 1);

            svg.append('text')
                .attr('x', box.x + box.w / 2)
                .attr('y', top - 9)
                .attr('text-anchor', 'middle')
                .attr('font-size', 16)
                .text(title);
        };

        const drawColorbar = (opts) => {
            const y = d3.scaleLinear().domain(opts.domain).range([opts.bottom, opts.top]);
            const x0 = 432, w = 10;
            const g = svg.append('g');

            g.selectAll('rect')
                .data(d3.range(opts.top, opts.bottom, 1))
                .join('rect')
                .attr('x', x0)
                .attr('y', d => d)
                .attr('width', w)
                .attr('height', 1.2)
                .attr('fill', d => opts.color(y.invert(d + 0.5)));

            // extend arrows
            const topArrow = d3.path();
            topArrow.moveTo(x0, opts.top);
            topArrow.lineTo(x0 + w / 2, opts.top - 8);
            topArrow.lineTo(x0 + w, opts.top);
            topArrow.closePath();
            g.append('path').attr('d', topArrow.toString()).attr('fill', opts.color(opts.domain[1]));

            if (opts.extendBoth) {
                const bottomArrow = d3.path();
                bottomArrow.moveTo(x0, opts.bottom);
                bottomArrow.lineTo(x0 + w / 2, opts.bottom + 8);
                bottomArrow.lineTo(x0 + w, opts.bottom);
                bottomArrow.closePath();
                g.append('path').attr('d', bottomArrow.toString()).attr('fill', opts.color(opts.domain[0]));
            }

            const axis = svg.append('g')
                .attr('transform', `translate(${x0 + w},0)`)
                .call(d3.axisRight(y).tickValues(opts.ticks).tickSize(0).tickPadding(8).tickFormat(d3.format('.2f')));
            axis.select('.domain').remove();
            axis.selectAll('text').attr('font-size', 13).attr('font-family', null);

            svg.append('text')
                .attr('transform', `translate(${opts.labelX},${opts.labelY}) rotate(-90)`)
                .attr('text-anchor', 'middle')
                .attr('font-size', opts.labelSize)
                .text(opts.label);
        };

        const drawScatter = () => {
            const margin = { left: 622.5, right: 1164, top: 28, bottom: 450 };
            const x = d3.scaleLinear().domain([-20, 20]).range([margin.left, margin.right]);
            const y = d3.scaleLinear().domain([-20, 20]).range([margin.bottom, margin.top]);

            svg.append('rect')
                .attr('x', margin.left).attr('y', margin.top)
                .attr('width', margin.right - margin.left)
                .attr('height', margin.bottom - margin.top)
                .attr('fill', '#eaeaf2');

            svg.append('g').selectAll('line')
                .data(scatterTicks)
                .join('line')
                .attr('x1', d => x(d)).attr('x2', d => x(d))
                .attr('y1', margin.top).attr('y2', margin.bottom)
                .attr('stroke', '#fff').attr('stroke-width', 1.3);
            svg.append('g').selectAll('line')
                .data(scatterTicks)
                .join('line')
                .attr('x1', margin.left).attr('x2', margin.right)
                .attr('y1', d => y(d)).attr('y2', d => y(d))
                .attr('stroke', '#fff').attr('stroke-width', 1.3);

            svg.append('g').attr('class', 'soft').selectAll('circle')
                .data(trendSingleYear)
                .join('circle')
                .attr('cx', d => x(d))
                .attr('cy', (d, i) => y(trendMultiYear[i]))
                .attr('r', 5.2)
                .attr('fill', '#4c72b0');

            const xAxis = svg.append('g')
                .attr('transform', `translate(0,${margin.bottom})`)
                .call(d3.axisBottom(x).tickValues(scatterTicks).tickSize(0).tickPadding(9));
            const yAxis = svg.append('g')
                .attr('transform', `translate(${margin.left},0)`)
                .call(d3.axisLeft(y).tickValues(scatterTicks).tickSize(0).tickPadding(9));
            for (const axis of [xAxis, yAxis]) {
                axis.select('.domain').remove();
                axis.selectAll('text').attr('font-size', 13).attr('font-family', null);
            }

            svg.append('text')
                .attr('x', (margin.left + margin.right) / 2)
                .attr('y', 486)
                .attr('text-anchor', 'middle')
                .attr('font-size', 14.6)
                .text('Trend with single year spinup [kg m-2 a-1]');
            svg.append('text')
                .attr('transform', `translate(581,239) rotate(-90)`)
                .attr('text-anchor', 'middle')
                .attr('font-size', 14)
                .text('Trend with multiple years spinup [kg m-2 a-1]');
        };

        drawMap(28, 'RMSE for yearly mean root zone moisture', '#fff', 2, rmseColor, 'clip-rmse');
        drawMap(258, 'Difference in long-term trends', '#f4f5f5', 3, trendColor, 'clip-trend');

        drawColorbar({
            domain: rmseDomain, top: 36, bottom: 211, ticks: rmseTicks, color: rmseColor,
            label: 'RMSE [kg m-2]', labelX: 493, labelY: 124, labelSize: 14.4, extendBoth: false
        });
        drawColorbar({
            domain: trendDomain, top: 265, bottom: 443, ticks: trendTicks, color: trendColor,
            label: 'Trend difference [kg m-2 a-1]', labelX: 500, labelY: 354, labelSize: 14, extendBoth: true
        });

        drawScatter();
    </script>
</body>

</html>
